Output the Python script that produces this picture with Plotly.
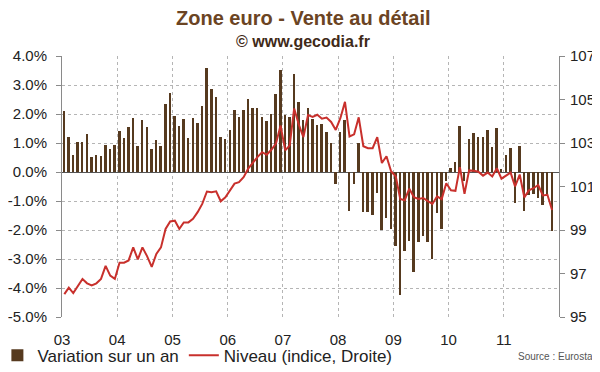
import pandas as pd
import plotly.graph_objects as go

# Monthly data, Jan 2003 - Nov 2011
months = pd.date_range("2003-01-01", periods=107, freq="MS")

variation = [
    2.10, 1.20, 0.60, 1.05, 1.04, 1.30, 0.52, 0.58, 0.56, 0.93, 0.78, 0.92,
    1.42, 1.17, 1.56, 1.86, 0.90, 1.80, 1.55, 0.79, 1.10, 0.88, 2.34, 2.73,
    1.94, 1.58, 1.82, 1.16, 1.87, 1.70, 2.27, 3.58, 2.85, 2.60, 1.20, 1.14,
    1.44, 2.15, 1.88, 2.13, 2.53, 2.20, 2.21, 1.90, 1.75, 2.00, 2.70, 3.53,
    1.98, 1.90, 3.39, 2.40, 1.81, 2.21, 1.82, 1.62, 1.64, 1.38, 1.00, -0.42,
    1.38, 1.81, -1.36, -0.43, 1.00, -1.38, -1.38, -1.47, -0.72, -1.99, -1.60, -1.96,
    -2.55, -4.23, -2.73, -2.38, -3.44, -2.41, -2.19, -2.40, -2.99, -1.42, -1.97, -0.30,
    0.15, 0.35, 1.58, -0.30, 1.15, 1.35, 1.19, 1.19, 1.44, 0.87, 1.51, 0.10,
    0.57, 0.84, -1.08, 0.89, -1.36, -0.80, -0.75, -0.90, -1.14, -0.83, -2.03,
]

niveau = [
    96.05, 96.35, 96.10, 96.45, 96.75, 96.55, 96.45, 96.55, 96.75, 97.35, 96.90, 96.75,
    97.50, 97.50, 97.60, 98.20, 97.65, 98.20, 97.80, 97.30, 97.90, 98.20, 99.05, 99.39,
    99.43, 99.05, 99.35, 99.35, 99.51, 99.82, 100.20, 100.77, 100.74, 100.78, 100.32, 100.50,
    100.82, 101.13, 101.20, 101.43, 101.82, 102.10, 102.35, 102.58, 102.46, 102.69, 102.97, 103.80,
    102.66, 102.89, 104.59, 103.85, 103.27, 104.28, 104.20, 104.30, 104.12, 104.17, 103.97, 103.60,
    104.15, 104.89, 103.30, 103.40, 104.18, 102.85, 102.76, 102.76, 103.27, 102.08, 102.39, 101.70,
    101.46, 100.43, 100.37, 100.90, 100.51, 100.43, 100.47, 100.33, 100.20, 100.55, 100.42, 101.15,
    100.83, 100.80, 101.89, 100.66, 101.74, 101.72, 101.68, 101.50, 101.64, 101.46, 101.84, 101.36,
    101.51, 101.64, 101.00, 101.55, 100.50, 100.82, 100.92, 101.07, 100.59, 100.62, 99.92,
]

year_starts = pd.date_range("2003-01-01", "2011-01-01", freq="YS")
year_labels = ["03", "04", "05", "06", "07", "08", "09", "10", "11"]
left_ticks = [-5, -4, -3, -2, -1, 0, 1, 2, 3, 4]
left_labels = [f"{v:.1f}%" for v in left_ticks]
right_ticks = [95, 97, 99, 101, 103, 105, 107]

FONT = "Liberation Sans, Arial, sans-serif"
BAR_COLOR = "#563a1f"
LINE_COLOR = "#c8302c"
GRID = "#b5b5b5"
AXIS = "#8a8a8a"
TICK_FONT = dict(size=15, color="#222", family=FONT)

fig = go.Figure()
fig.add_trace(go.Bar(
    x=months, y=variation, name="Variation sur un an",
    xperiod="M1", xperiodalignment="middle",
    width=13 * 86400000,
    marker=dict(color=BAR_COLOR, line=dict(width=0)),
))
fig.add_trace(go.Scatter(
    x=months, y=niveau, name="Niveau (indice, Droite)", yaxis="y2",
    xperiod="M1", xperiodalignment="middle",
    mode="lines", line=dict(color=LINE_COLOR, width=2),
))

# The page body adds an 8px margin, so the figure is sized 592x364.
fig.update_layout(
    template="none",
    width=592, height=364,
    margin=dict(l=54, r=41, t=48, b=55, autoexpand=False),
    paper_bgcolor="white", plot_bgcolor="white",
    font=dict(family=FONT, size=15, color="#222"),
    showlegend=True,
    legend=dict(orientation="h", x=-0.13, y=-0.148, xanchor="left", yanchor="middle",
                font=dict(size=17, color="#222", family=FONT), itemwidth=30,
                bgcolor="rgba(0,0,0,0)"),
    xaxis=dict(
        type="date", range=["2003-01-01", "2012-01-01"],
        tickvals=list(year_starts), ticktext=year_labels,
        showgrid=True, gridcolor=GRID, griddash="dot", gridwidth=1,
        ticks="", showline=False, zeroline=False, automargin=False,
        ticklabelstandoff=12, tickfont=TICK_FONT,
    ),
    yaxis=dict(
        range=[-5, 4], tickvals=left_ticks, ticktext=left_labels,
        showgrid=True, gridcolor=GRID, griddash="dot", gridwidth=1,
        zeroline=True, zerolinecolor="#555", zerolinewidth=1,
        showline=True, linecolor=AXIS, linewidth=1,
        ticks="outside", ticklen=5, tickcolor=AXIS, automargin=False,
        ticklabelstandoff=6, tickfont=TICK_FONT,
    ),
    yaxis2=dict(
        overlaying="y", side="right", range=[95, 107], tickvals=right_ticks,
        showgrid=False, zeroline=False,
        showline=True, linecolor=AXIS, linewidth=1,
        ticks="outside", ticklen=5, tickcolor=AXIS, automargin=False,
        ticklabelstandoff=2, tickfont=TICK_FONT,
    ),
    bargap=0,
    annotations=[
        dict(text="<b>Zone euro - Vente au détail</b>", xref="paper", yref="paper",
             x=0.485, y=1.146, xanchor="center", yanchor="middle", showarrow=False,
             font=dict(size=20, color="#6b4423", family=FONT)),
        dict(text="<b>© www.gecodia.fr</b>", xref="paper", yref="paper",
             x=0.485, y=1.054, xanchor="center", yanchor="middle", showarrow=False,
             font=dict(size=16, color="#3f2a18", family=FONT)),
        dict(text="Source : Eurostat", xref="paper", yref="paper",
             x=1.076, y=-0.152, xanchor="right", yanchor="middle", showarrow=False,
             font=dict(size=10, color="#555", family=FONT)),
    ],
)

fig.write_html("out.html")
